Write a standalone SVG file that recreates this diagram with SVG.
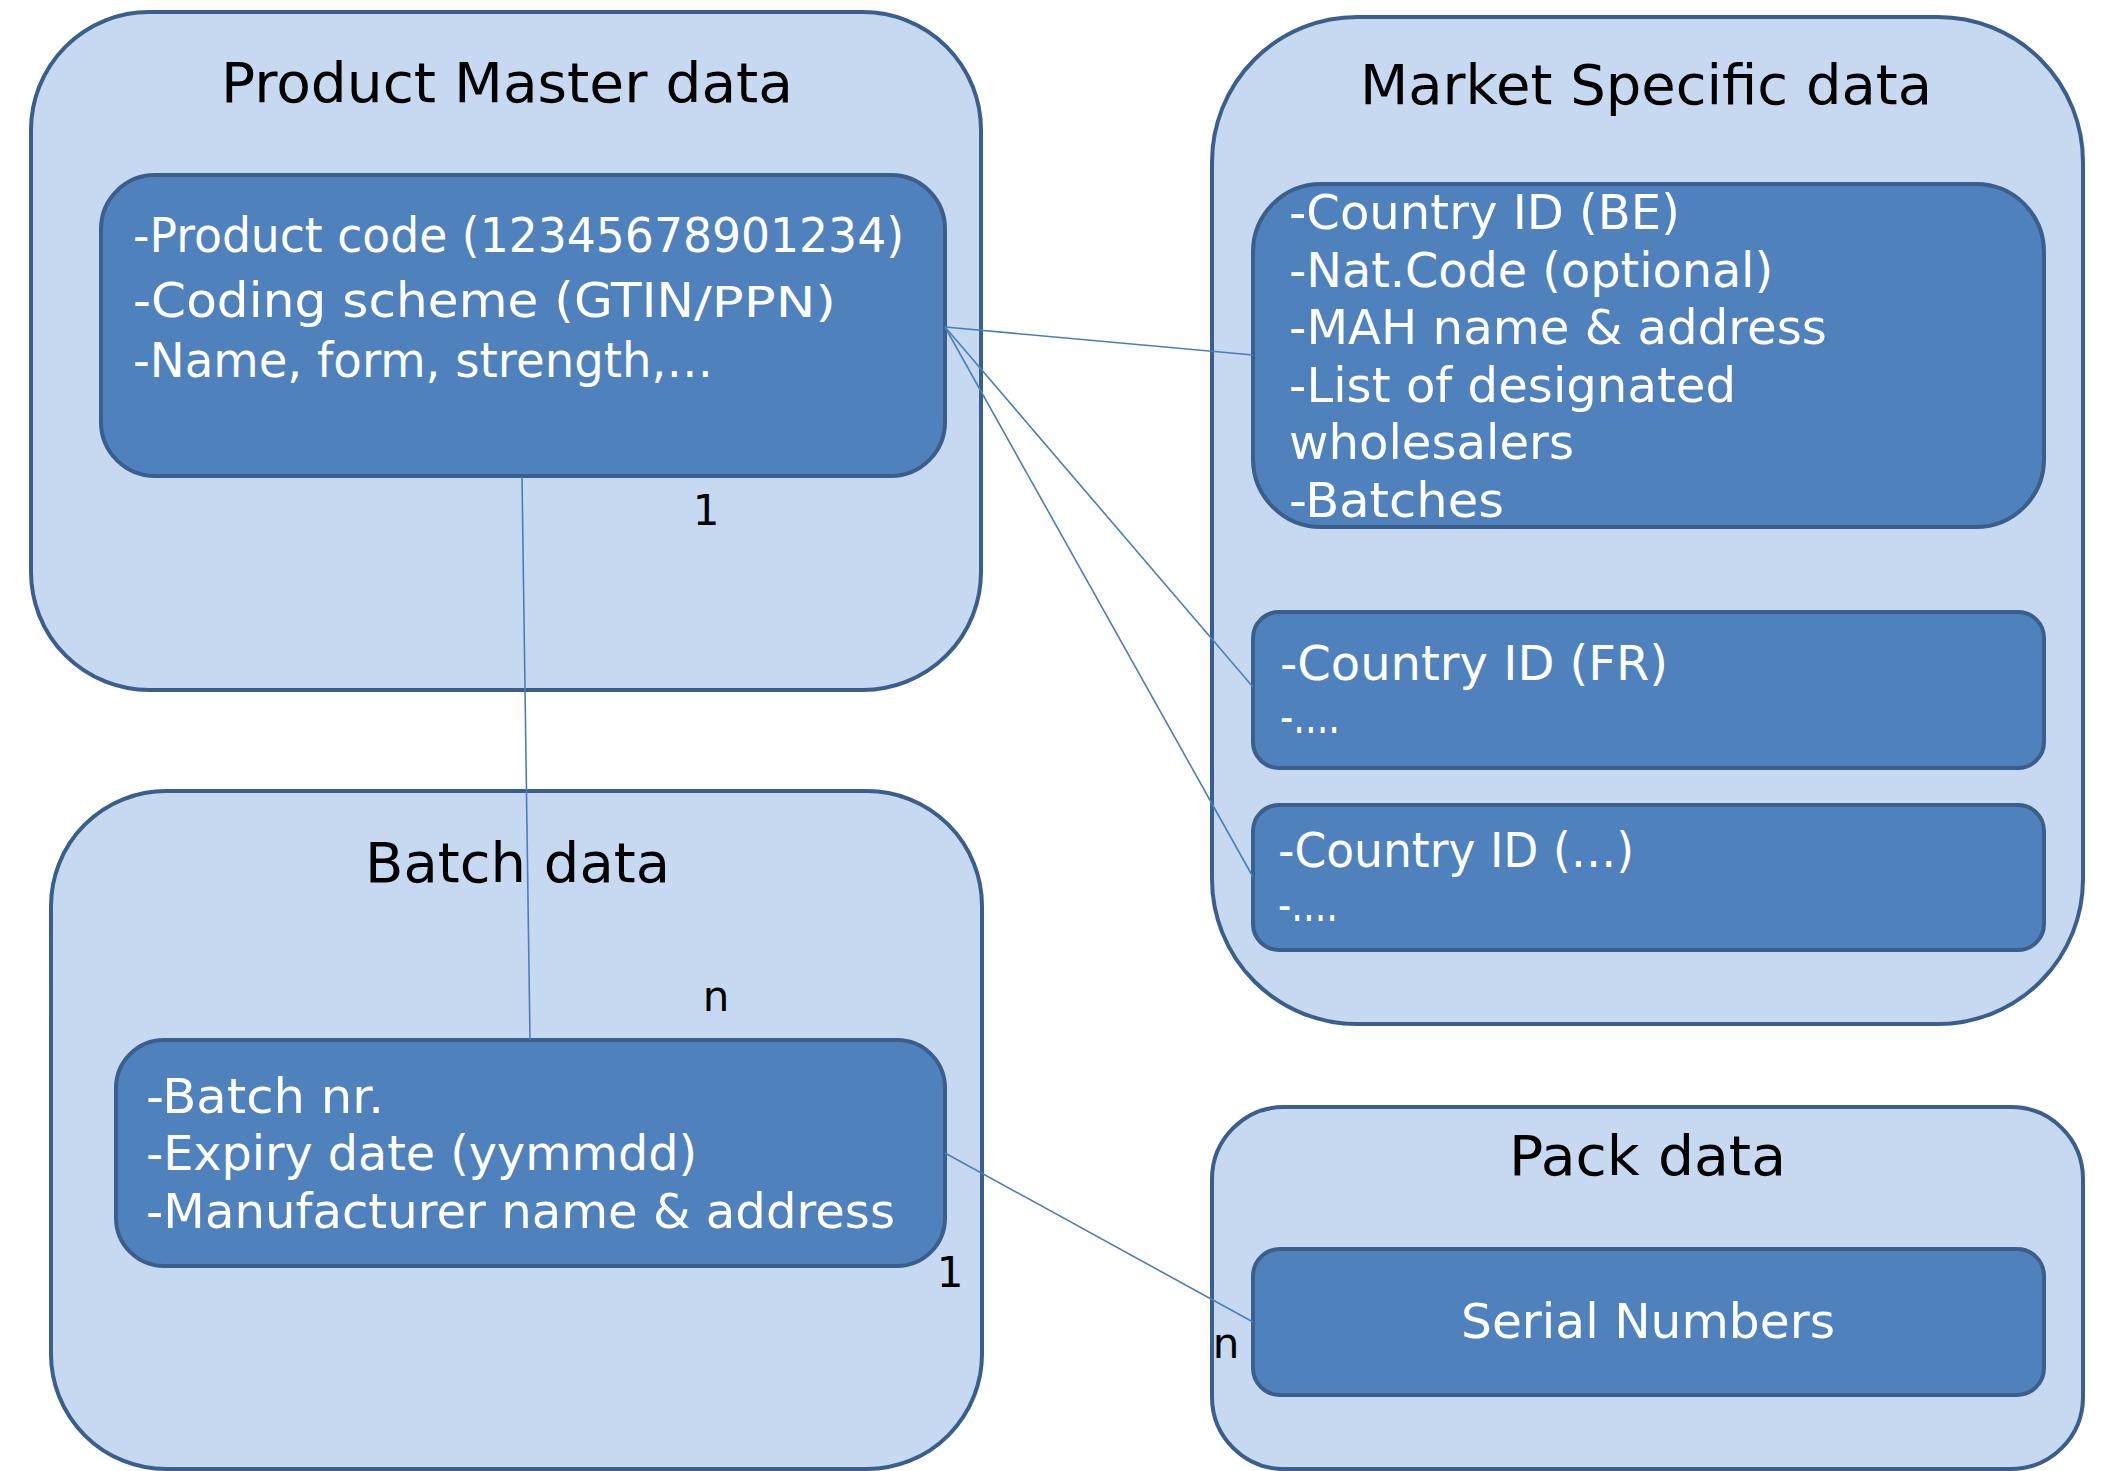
<svg xmlns="http://www.w3.org/2000/svg" width="2102" height="1471" viewBox="0 0 2102 1471">
  <style>
    .outer { fill: #c6d9f0; stroke: #3a5f8c; stroke-width: 4; }
    .inner { fill: #4f81bd; stroke: #3a5f8c; stroke-width: 4; }
    .title { font-family: "DejaVu Sans", "Liberation Sans", sans-serif; font-size: 56px; fill: #000000; }
    .item  { font-family: "DejaVu Sans", "Liberation Sans", sans-serif; font-size: 48px; fill: #ffffff; }
    .small { font-size: 42px; }
    .card  { font-family: "DejaVu Sans", "Liberation Sans", sans-serif; font-size: 42px; fill: #000000; text-anchor: middle; }
    .link  { fill: none; stroke: #4a7ebb; stroke-width: 1.6; }
  </style>

  <!-- Product master data -->
  <g id="product-master">
    <rect class="outer" x="31" y="12" width="950" height="678" rx="118" ry="118"/>
    <text class="title" x="221" y="102" textLength="572" lengthAdjust="spacingAndGlyphs">Product Master data</text>
  </g>
  <g id="product-attributes">
    <rect class="inner" x="101" y="175" width="844" height="301" rx="54" ry="54"/>
    <text class="item" x="133" y="252" textLength="771" lengthAdjust="spacingAndGlyphs">-Product code (12345678901234)</text>
    <text class="item" x="133" y="317" textLength="561" lengthAdjust="spacingAndGlyphs">-Coding scheme (GTIN</text>
    <text class="item small" x="694" y="317" textLength="142" lengthAdjust="spacingAndGlyphs">/PPN)</text>
    <text class="item" x="133" y="377" textLength="580" lengthAdjust="spacingAndGlyphs">-Name, form, strength,…</text>
  </g>

  <!-- Market specific data -->
  <g id="market-specific">
    <rect class="outer" x="1212" y="17" width="871" height="1007" rx="145" ry="145"/>
    <text class="title" x="1360" y="104" textLength="572" lengthAdjust="spacingAndGlyphs">Market Specific data</text>
  </g>
  <g id="market-be">
    <rect class="inner" x="1253" y="184" width="791" height="343" rx="68" ry="68"/>
    <text class="item" x="1289" y="229" textLength="391" lengthAdjust="spacingAndGlyphs">-Country ID (BE)</text>
    <text class="item" x="1289" y="286.5" textLength="484" lengthAdjust="spacingAndGlyphs">-Nat.Code (optional)</text>
    <text class="item" x="1289" y="344" textLength="538" lengthAdjust="spacingAndGlyphs">-MAH name &amp; address</text>
    <text class="item" x="1289" y="401.5" textLength="447" lengthAdjust="spacingAndGlyphs">-List of designated</text>
    <text class="item" x="1289" y="459" textLength="285" lengthAdjust="spacingAndGlyphs">wholesalers</text>
    <text class="item" x="1289" y="516.5" textLength="215" lengthAdjust="spacingAndGlyphs">-Batches</text>
  </g>
  <g id="market-fr">
    <rect class="inner" x="1253" y="612" width="791" height="156" rx="26" ry="26"/>
    <text class="item" x="1280" y="680" textLength="388" lengthAdjust="spacingAndGlyphs">-Country ID (FR)</text>
    <text class="item" x="1280" y="733" textLength="60" lengthAdjust="spacingAndGlyphs">-....</text>
  </g>
  <g id="market-other">
    <rect class="inner" x="1253" y="805" width="791" height="145" rx="26" ry="26"/>
    <text class="item" x="1278" y="867" textLength="356" lengthAdjust="spacingAndGlyphs">-Country ID (…)</text>
    <text class="item" x="1278" y="921" textLength="60" lengthAdjust="spacingAndGlyphs">-....</text>
  </g>

  <!-- Batch data -->
  <g id="batch">
    <rect class="outer" x="51" y="791" width="931" height="678" rx="115" ry="115"/>
    <text class="title" x="365" y="882" textLength="305" lengthAdjust="spacingAndGlyphs">Batch data</text>
  </g>
  <g id="batch-attributes">
    <rect class="inner" x="116" y="1040" width="829" height="226" rx="48" ry="48"/>
    <text class="item" x="146" y="1113" textLength="238" lengthAdjust="spacingAndGlyphs">-Batch nr.</text>
    <text class="item" x="146" y="1170" textLength="551" lengthAdjust="spacingAndGlyphs">-Expiry date (yymmdd)</text>
    <text class="item" x="146" y="1228" textLength="749" lengthAdjust="spacingAndGlyphs">-Manufacturer name &amp; address</text>
  </g>

  <!-- Pack data -->
  <g id="pack">
    <rect class="outer" x="1212" y="1107" width="871" height="362" rx="72" ry="72"/>
    <text class="title" x="1509" y="1175" textLength="277" lengthAdjust="spacingAndGlyphs">Pack data</text>
  </g>
  <g id="serial-numbers">
    <rect class="inner" x="1253" y="1249" width="791" height="146" rx="27" ry="27"/>
    <text class="item" x="1461" y="1338" textLength="374" lengthAdjust="spacingAndGlyphs">Serial Numbers</text>
  </g>

  <!-- Relations with cardinalities -->
  <g id="connectors">
    <line class="link" x1="945" y1="327" x2="1253" y2="355"/>
    <line class="link" x1="945" y1="327" x2="1253" y2="687"/>
    <line class="link" x1="945" y1="327" x2="1253" y2="877"/>
    <line class="link" x1="522" y1="477" x2="530" y2="1040"/>
    <line class="link" x1="945" y1="1153" x2="1253" y2="1322"/>
    <text class="card" x="706" y="525">1</text>
    <text class="card" x="716" y="1011">n</text>
    <text class="card" x="950" y="1287">1</text>
    <text class="card" x="1226" y="1358">n</text>
  </g>
</svg>
